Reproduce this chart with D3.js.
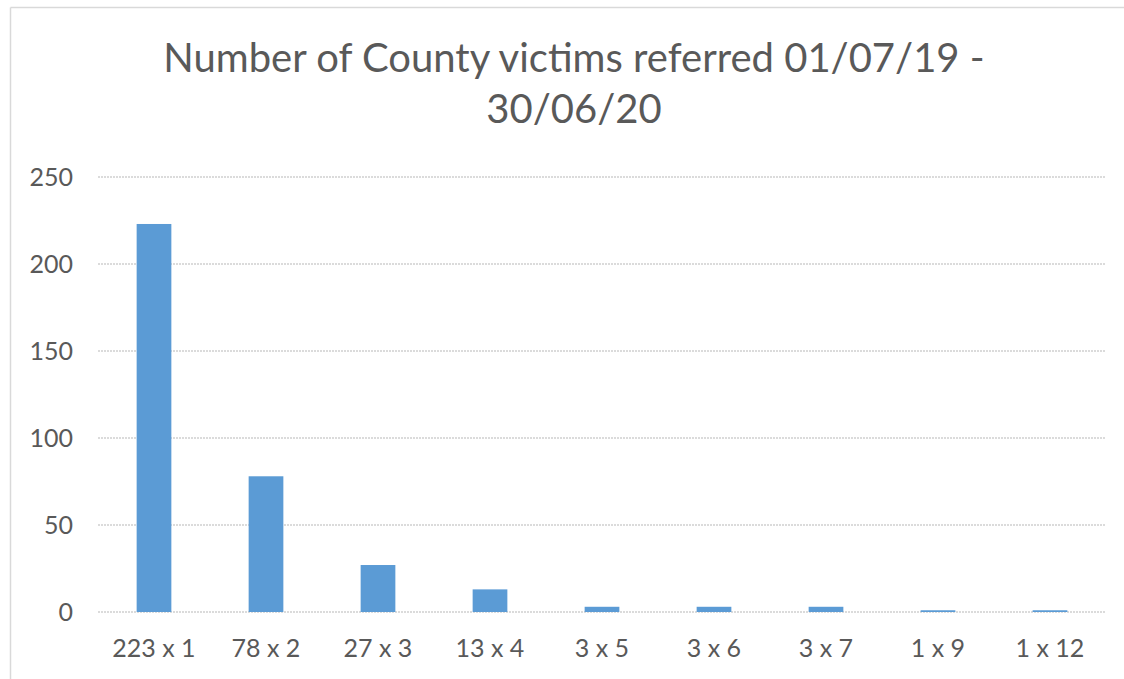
<!DOCTYPE html>
<html>
<head>
<meta charset="utf-8">
<script src="https://cdn.jsdelivr.net/npm/d3@7"></script>
<style>
  html, body { margin: 0; padding: 0; background: #fff; overflow: hidden; }
  svg { display: block; }
  text { font-family: Lato, "Open Sans", sans-serif; fill: #595959; }
</style>
</head>
<body>
<script>
const categories = ["223 x 1", "78 x 2", "27 x 3", "13 x 4", "3 x 5", "3 x 6", "3 x 7", "1 x 9", "1 x 12"];
const values = [223, 78, 27, 13, 3, 3, 3, 1, 1];
const yTicks = [0, 50, 100, 150, 200, 250];
const titleLines = ["Number of County victims referred 01/07/19 -", "30/06/20"];

const W = 1124, H = 679;
const svg = d3.select("body").append("svg").attr("width", W).attr("height", H);

// chart border (top and left edges visible)
svg.append("line").attr("x1", 10.5).attr("x2", W).attr("y1", 7.5).attr("y2", 7.5)
  .attr("stroke", "#d9d9d9").attr("stroke-width", 1.5);
svg.append("line").attr("x1", 10.5).attr("x2", 10.5).attr("y1", 7.5).attr("y2", H)
  .attr("stroke", "#d9d9d9").attr("stroke-width", 1.5);

const x = d3.scaleBand().domain(categories).range([98, 1106]).padding(0);
const y = d3.scaleLinear().domain([0, 250]).range([612, 177]);

// gridlines
svg.append("g").selectAll("line").data(yTicks).join("line")
  .attr("x1", 98).attr("x2", 1106)
  .attr("y1", d => y(d)).attr("y2", d => y(d))
  .attr("stroke", "#d0d0d0").attr("stroke-width", 1.5)
  .attr("stroke-dasharray", "2,1");

// y labels
svg.append("g").selectAll("text").data(yTicks).join("text")
  .attr("x", 73).attr("y", d => y(d))
  .attr("dy", "0.35em")
  .attr("text-anchor", "end")
  .style("font-size", "25px")
  .text(d => d);

// bars
const bw = x.bandwidth() * 0.31;
svg.append("g").selectAll("rect").data(values).join("rect")
  .attr("x", (d, i) => x(categories[i]) + x.bandwidth() / 2 - bw / 2)
  .attr("y", d => y(d))
  .attr("width", bw)
  .attr("height", d => y(0) - y(d))
  .attr("fill", "#5b9bd5");

// x labels
svg.append("g").selectAll("text").data(categories).join("text")
  .attr("x", d => x(d) + x.bandwidth() / 2)
  .attr("y", 657)
  .attr("text-anchor", "middle")
  .style("font-size", "25px")
  .text(d => d);

// title
svg.append("g").selectAll("text").data(titleLines).join("text")
  .attr("x", 574)
  .attr("y", (d, i) => 72 + i * 51)
  .attr("text-anchor", "middle")
  .style("font-size", "40px")
  .text(d => d);
</script>
</body>
</html>
